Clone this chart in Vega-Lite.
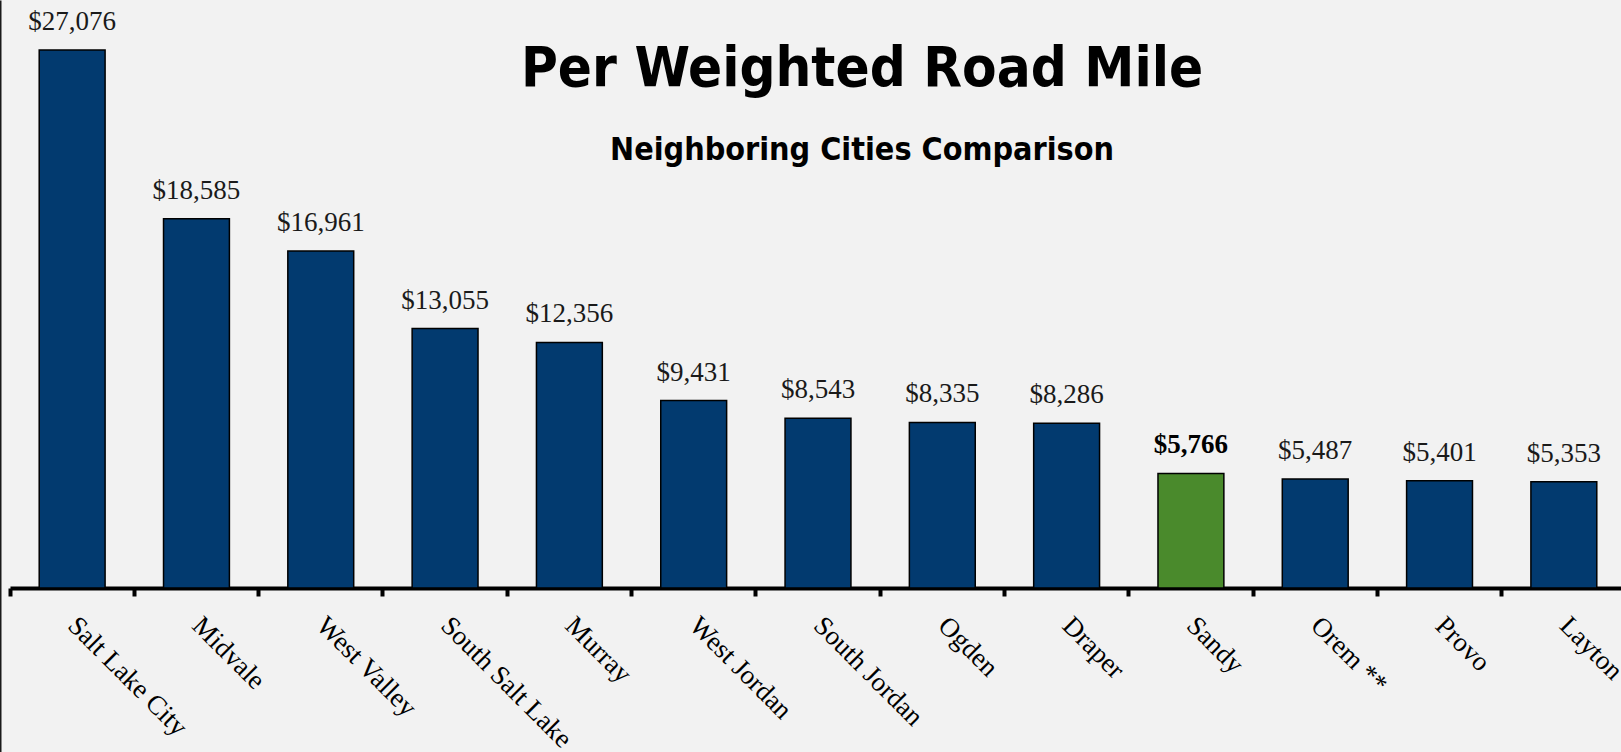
{
  "$schema": "https://vega.github.io/schema/vega-lite/v6.json",
  "width": 1616,
  "height": 752,
  "padding": 0,
  "background": "#F2F2F2",
  "view": {"stroke": null},
  "title": {
    "text": "Per Weighted Road Mile",
    "subtitle": "Neighboring Cities Comparison",
    "anchor": "middle",
    "dx": 44,
    "offset": -167,
    "font": "'DejaVu Sans Condensed', 'Liberation Sans Narrow', 'Arial Narrow', sans-serif",
    "fontSize": 56,
    "fontWeight": "bold",
    "color": "#000000",
    "subtitleFont": "'DejaVu Sans Condensed', 'Liberation Sans Narrow', 'Arial Narrow', sans-serif",
    "subtitleFontSize": 32,
    "subtitleFontWeight": "bold",
    "subtitleColor": "#000000",
    "subtitlePadding": 37
  },
  "data": {
    "values": [
      {"city": "Salt Lake City", "value": 27076, "group": "Other"},
      {"city": "Midvale", "value": 18585, "group": "Other"},
      {"city": "West Valley", "value": 16961, "group": "Other"},
      {"city": "South Salt Lake", "value": 13055, "group": "Other"},
      {"city": "Murray", "value": 12356, "group": "Other"},
      {"city": "West Jordan", "value": 9431, "group": "Other"},
      {"city": "South Jordan", "value": 8543, "group": "Other"},
      {"city": "Ogden", "value": 8335, "group": "Other"},
      {"city": "Draper", "value": 8286, "group": "Other"},
      {"city": "Sandy", "value": 5766, "group": "Sandy"},
      {"city": "Orem **", "value": 5487, "group": "Other"},
      {"city": "Provo", "value": 5401, "group": "Other"},
      {"city": "Layton", "value": 5353, "group": "Other"}
    ]
  },
  "encoding": {
    "x": {
      "field": "city",
      "type": "nominal",
      "sort": null,
      "scale": {"paddingInner": 0.47, "paddingOuter": 0.235},
      "axis": {
        "title": null,
        "offset": -164,
        "bandPosition": -0.443,
        "domainColor": "#000000",
        "domainWidth": 4,
        "tickColor": "#000000",
        "tickWidth": 4,
        "tickSize": 8,
        "labelFont": "Liberation Serif",
        "labelFontSize": 27,
        "labelColor": "#000000",
        "labelAngle": 45,
        "labelAlign": "left",
        "labelBaseline": "middle",
        "labelPadding": 25,
        "labelOverlap": false,
        "labelBound": false,
        "labelLimit": 400,
        "grid": false
      }
    },
    "y": {
      "field": "value",
      "type": "quantitative",
      "scale": {"domain": [-8254, 29592], "nice": false, "zero": false},
      "axis": {
        "orient": "left",
        "offset": 10,
        "title": null,
        "domain": true,
        "domainColor": "#1a1a1a",
        "domainWidth": 2,
        "ticks": false,
        "labels": false,
        "grid": false
      }
    }
  },
  "layer": [
    {
      "mark": {"type": "bar", "stroke": "#000000", "strokeWidth": 1.5},
      "encoding": {
        "y2": {"datum": 0},
        "color": {
          "field": "group",
          "type": "nominal",
          "scale": {"domain": ["Sandy", "Other"], "range": ["#4A8A2C", "#023A6F"]},
          "legend": null
        }
      }
    },
    {
      "transform": [{"filter": "datum.group !== 'Sandy'"}],
      "mark": {"type": "text", "font": "Liberation Serif", "fontSize": 27, "baseline": "alphabetic", "dy": -20, "color": "#1a1a1a"},
      "encoding": {"text": {"field": "value", "type": "quantitative", "format": "$,.0f"}}
    },
    {
      "transform": [{"filter": "datum.group === 'Sandy'"}],
      "mark": {"type": "text", "font": "Liberation Serif", "fontSize": 27, "fontWeight": "bold", "baseline": "alphabetic", "dy": -20, "color": "#000000"},
      "encoding": {"text": {"field": "value", "type": "quantitative", "format": "$,.0f"}}
    }
  ]
}
